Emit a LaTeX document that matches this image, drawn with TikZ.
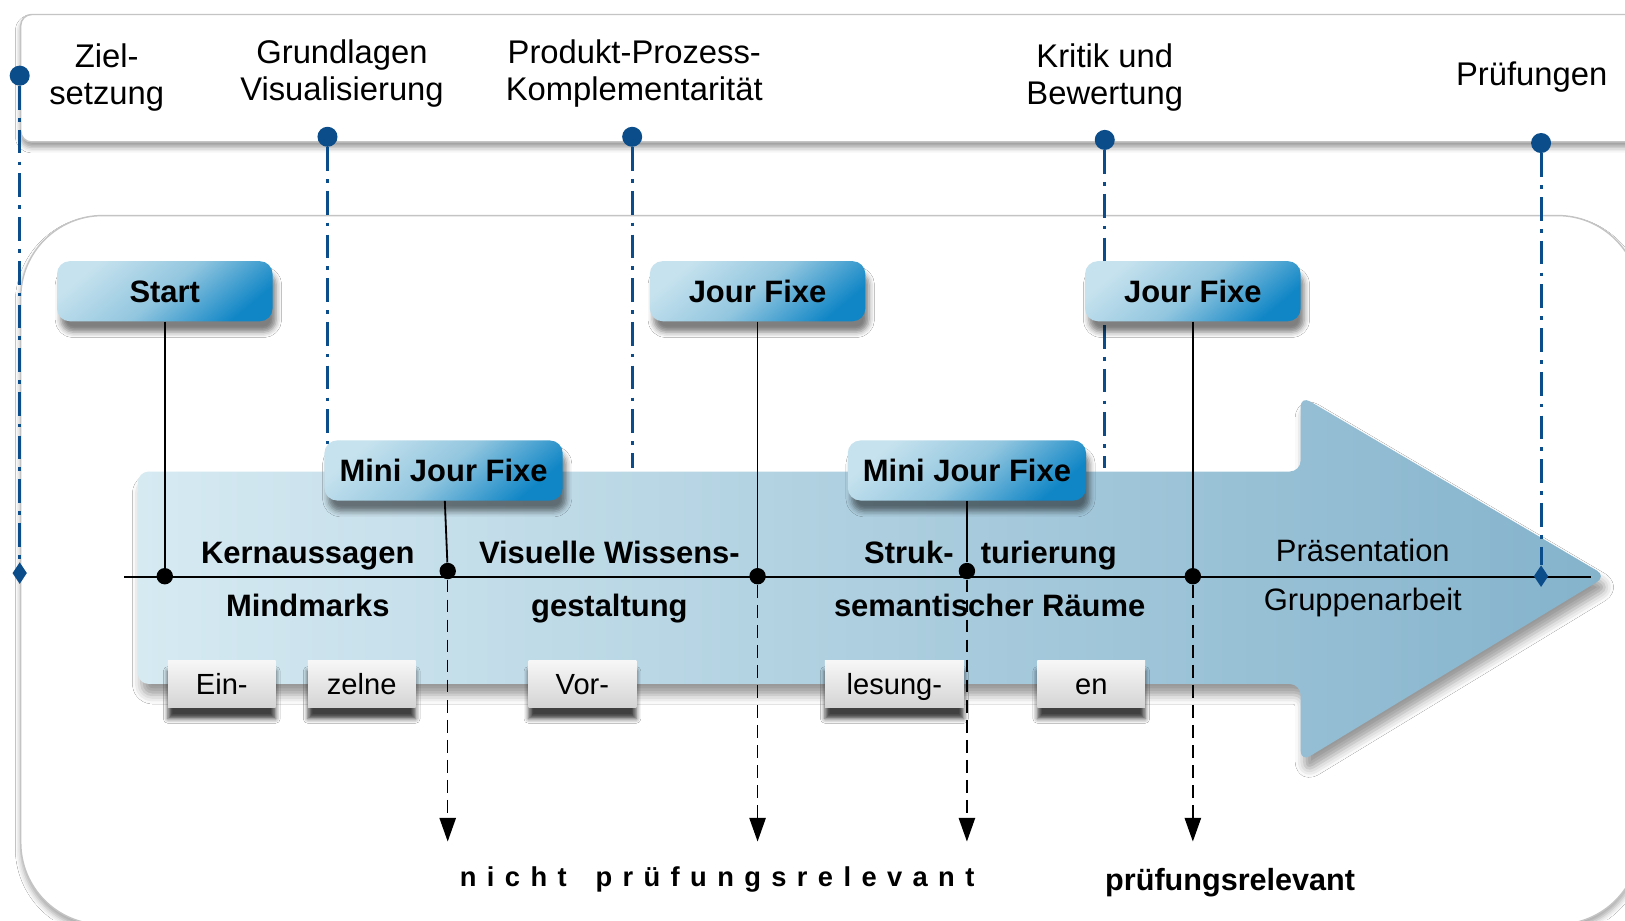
\documentclass[tikz,border=0pt]{standalone}
\usepackage{fontspec}
\setmainfont{Liberation Sans}
\newfontfamily\spacedfont[LetterSpace=38]{Liberation Sans}
\usetikzlibrary{shapes.geometric,arrows.meta,shadows.blur}
\definecolor{dotblue}{HTML}{0B4D8A}
\definecolor{arrowL}{HTML}{D6EAF2}
\definecolor{arrowR}{HTML}{84B3CC}
\definecolor{boxL}{HTML}{C6E2EE}
\definecolor{boxM}{HTML}{92C6DF}
\definecolor{boxR}{HTML}{1086C6}
\definecolor{greyT}{HTML}{F7F7F7}
\definecolor{greyB}{HTML}{D4D4D4}
\definecolor{framegray}{HTML}{C4C4C4}
\begin{document}
\begin{tikzpicture}[x=0.02cm, y=-0.02cm,
  bdot/.style={circle, fill=dotblue, inner sep=0pt, minimum size=11pt},
  adot/.style={circle, fill=black, inner sep=0pt, minimum size=9pt},
  bdia/.style={diamond, fill=dotblue, inner sep=0pt, minimum width=8pt, minimum height=12pt},
  toplab/.style={align=center, font=\fontsize{18}{20.5}\selectfont, inner sep=0pt},
  bluebox/.style={rounded corners=7pt, minimum width=4.16cm, minimum height=1.16cm,
     text height=12.2pt, text depth=0pt,
     top color=boxL, bottom color=boxR, middle color=boxM, shading angle=40,
     font=\bfseries\fontsize{17}{19}\selectfont,
     blur shadow={shadow xshift=2pt, shadow yshift=-6pt, shadow blur radius=3pt, shadow opacity=50}},
  greybox/.style={minimum width=2.08cm, minimum height=0.92cm, top color=greyT, bottom color=greyB,
     text height=11.5pt, text depth=0pt,
     font=\fontsize{16}{18}\selectfont,
     blur shadow={shadow xshift=0pt, shadow yshift=-6pt, shadow blur radius=2.5pt, shadow opacity=75}},
  arrtxt/.style={font=\bfseries\fontsize{17}{19}\selectfont, inner sep=0pt, anchor=base},
  arrreg/.style={font=\fontsize{17}{19}\selectfont, inner sep=0pt, anchor=base},
  ddot/.style={dotblue, line width=1.6pt, dash pattern=on 13pt off 4.5pt on 2pt off 4.5pt},
  solidl/.style={black, line width=1pt},
  darr/.style={black, line width=0.8pt, dash pattern=on 7pt off 4pt, -{Triangle[width=9pt,length=13pt]}}
]
\useasboundingbox (0,0) rectangle (1568,888);
\begin{scope}
\clip (0,0) rectangle (1568,888);
\fill[white] (0,0) rectangle (1568,888);
% frames
\draw[draw=framegray, line width=0.8pt, fill=white, rounded corners=6pt,
  blur shadow={shadow xshift=0pt, shadow yshift=-3pt, shadow blur radius=3pt, shadow opacity=40}]
  (20,14) rectangle (1620,137);
\draw[draw=framegray, line width=0.8pt, fill=white, rounded corners=45pt,
  blur shadow={shadow xshift=0pt, shadow yshift=-3pt, shadow blur radius=3pt, shadow opacity=35}]
  (20,208) rectangle (1582,892);

% top labels
\node[toplab] (lz) at (103,75) {Ziel-\\setzung};
\node[toplab] (lg) at (330,71) {Grundlagen\\Visualisierung};
\node[toplab] (lp) at (612,71) {Produkt-Prozess-\\Komplementarit\"at};
\node[toplab] (lk) at (1066,75) {Kritik und\\Bewertung};
\node[toplab] (lpr) at (1478,74) {Pr\"ufungen};

% blue dots
\node[bdot] (dz) at (19,73) {};
\node[bdot] (dg) at (316,132) {};
\node[bdot] (dp) at (610,132) {};
\node[bdot] (dk) at (1066,135) {};
\node[bdot] (dpr) at (1487,138) {};

\coordinate (eg) at (316,428);
\coordinate (ep) at (610,452);
\coordinate (ek) at (1066,452);

% dash-dot lines behind
\draw[ddot] (dg) -- (eg);
\draw[ddot] (dp) -- (ep);
\draw[ddot] (dk) -- (ek);

% big arrow
\path[left color=arrowL, right color=arrowR, rounded corners=6pt,
  blur shadow={shadow xshift=2pt, shadow yshift=-6pt, shadow blur radius=5pt, shadow opacity=40}]
  (133,455) -- (1255,455) -- (1255,382) -- (1550,556) -- (1255,735) -- (1255,660) -- (133,660) -- cycle;

% axis
\coordinate (axl) at (120,557);
\coordinate (axr) at (1535,557);
\draw[black, line width=1.2pt] (axl) -- (axr);

\node[bdia] (zdia) at (19,553) {};
\node[bdia] (prdia) at (1487,556) {};
\draw[ddot] (dz) -- (zdia);
\draw[ddot] (dpr) -- (prdia);

% blue boxes
\node[bluebox] (start) at (159,281) {Start};
\node[bluebox] (jf1) at (731,281) {Jour Fixe};
\node[bluebox] (jf2) at (1151,281) {Jour Fixe};
\node[bluebox, minimum width=4.6cm] (mjf1) at (428,454) {Mini Jour Fixe};
\node[bluebox, minimum width=4.6cm] (mjf2) at (933,454) {Mini Jour Fixe};

% axis dots
\node[adot] (a1) at (159,556) {};
\node[adot] (a2) at (432,551) {};
\node[adot] (a3) at (731,556) {};
\node[adot] (a4) at (933,551) {};
\node[adot] (a5) at (1151,556) {};

\draw[solidl] (start) -- (a1);
\draw[solidl] (mjf1) -- (a2);
\draw[solidl] (jf1) -- (a3);
\draw[solidl] (mjf2) -- (a4);
\draw[solidl] (jf2) -- (a5);

% texts on arrow
\node[arrtxt] (t1) at (297,544) {Kernaussagen};
\node[arrtxt] (t2) at (297,595) {Mindmarks};
\node[arrtxt] (t3) at (588,544) {Visuelle Wissens-};
\node[arrtxt] (t4) at (588,595) {gestaltung};
\node[arrtxt] (t5) at (877,544) {Struk-};
\node[arrtxt] (t6) at (1012,544) {turierung};
\node[arrtxt] (t7) at (955,595) {semantischer R\"aume};
\node[arrreg] (t8) at (1315,542) {Pr\"asentation};
\node[arrreg] (t9) at (1315,589) {Gruppenarbeit};

% grey boxes
\node[greybox] (g1) at (214,660) {Ein-};
\node[greybox] (g2) at (349,660) {zelne};
\node[greybox] (g3) at (562,660) {Vor-};
\node[greybox, minimum width=2.68cm] (g4) at (863,660) {lesung-};
\node[greybox] (g5) at (1053,660) {en};

% dashed arrows
\coordinate (b2) at (432,812);
\coordinate (b3) at (731,812);
\coordinate (b4) at (933,812);
\coordinate (b5) at (1151,812);
\draw[darr] (a2) -- (b2);
\draw[darr] (a3) -- (b3);
\draw[darr] (a4) -- (b4);
\draw[darr] (a5) -- (b5);

% bottom texts
\node[font=\bfseries\fontsize{15}{17}\selectfont, inner sep=0pt] (nr) at (692,849) {\spacedfont nicht\hspace{6pt} pr\"ufungsrelevant};
\node[font=\bfseries\fontsize{16.8}{19}\selectfont, inner sep=0pt] (pr) at (1187,852) {pr\"ufungsrelevant};
\end{scope}
\end{tikzpicture}
\end{document}
